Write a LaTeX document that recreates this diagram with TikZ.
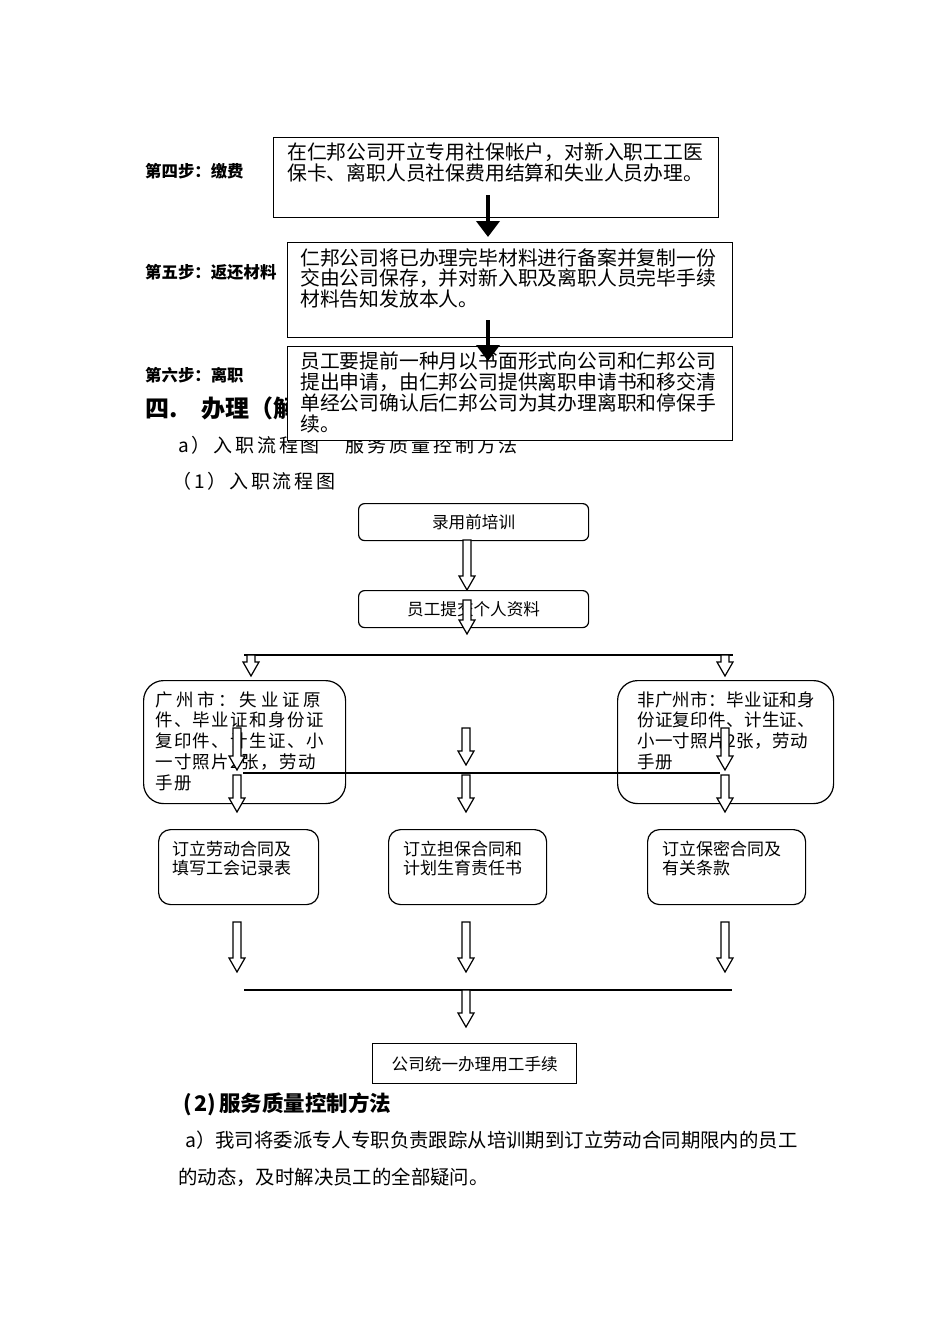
\documentclass[tikz,border=0pt]{standalone}
\usepackage{fontspec}
\setmainfont{Noto Sans CJK SC}
\usepackage{tikz}
\usetikzlibrary{arrows.meta}

\newcommand{\bigtext}{\fontsize{19.8}{20.8}\selectfont}
\newcommand{\midtext}{\fontsize{16.6}{18}\selectfont}
\newcommand{\flowtext}{\fontsize{17}{19}\selectfont}

% hollow block arrow: x, top, tip
\newcommand{\harrow}[3]{%
  \draw[hollow] (#1-4,#2) -- (#1+4,#2) -- (#1+4,#3-14) -- (#1+8,#3-14)
    -- (#1,#3) -- (#1-8,#3-14) -- (#1-4,#3-14) -- cycle;}

\tikzset{
  stepbox/.style={draw, line width=1.4pt, fill=white, anchor=north west, inner sep=0pt},
  roundbox/.style={draw, line width=1.2pt, fill=white, rounded corners=#1, anchor=north west, inner sep=0pt},
  roundbox/.default=12pt,
  boxtext/.style={anchor=north west, align=left, inner sep=0pt},
  steplabel/.style={anchor=west, inner sep=0pt, font=\fontsize{16.4}{16.4}\selectfont\bfseries},
  widetext/.style={anchor=west, inner sep=0pt, font=\fontsize{19}{19}\selectfont\addfontfeature{LetterSpace=15}},
  plaintext/.style={anchor=west, inner sep=0pt, font=\fontsize{19.4}{19.4}\selectfont},
  solidarrow/.style={line width=4pt, -{Triangle[length=16pt,width=23pt]}},
  hollow/.style={draw, fill=white, line width=1.2pt, line join=miter},
}

\begin{document}
\begin{tikzpicture}[x=1pt,y=-1pt]

        % page
        \fill[white] (0,0) rectangle (950,1344);

        % steps
        \node[steplabel] (l4) at (145,171) {第四步：缴费};
        \node[steplabel] (l5) at (145,272) {第五步：返还材料};
        \node[steplabel] (l6) at (145,375) {第六步：离职};

        \node[anchor=west, inner sep=0pt, font=\fontsize{24}{24}\selectfont\bfseries] (h4) at (145,408) {四.\hspace{24pt}办理（解};
        \node[widetext] (la) at (178,445) {a）入职流程图\hspace{26pt}服务质量控制方法};
        \node[widetext] (l1) at (172,481) {（1）入职流程图};

        \node[stepbox, minimum width=445pt, minimum height=80pt] (b4) at (273,137) {};
        \node[boxtext, font=\bigtext] (t4) at (287,143) {在仁邦公司开立专用社保帐户，对新入职工工医\\保卡、离职人员社保费用结算和失业人员办理。};

        \node[stepbox, minimum width=445pt, minimum height=95pt] (b5) at (287,242) {};
        \node[boxtext, font=\bigtext] (t5) at (300,248) {仁邦公司将已办理完毕材料进行备案并复制一份\\交由公司保存，并对新入职及离职人员完毕手续\\材料告知发放本人。};

        \node[stepbox, minimum width=445pt, minimum height=94pt] (b6) at (287,346) {};
        \node[boxtext, font=\bigtext] (t6) at (300,352) {员工要提前一种月以书面形式向公司和仁邦公司\\提出申请，由仁邦公司提供离职申请书和移交清\\单经公司确认后仁邦公司为其办理离职和停保手\\续。};

        \coordinate (a4s) at (488,195);
        \coordinate (a4e) at (488,237);
        \coordinate (a5s) at (488,320);
        \coordinate (a5e) at (488,361);
        \draw[solidarrow] (a4s) -- (a4e);
        \draw[solidarrow] (a5s) -- (a5e);

        % flow chart
        \node[roundbox=6pt, minimum width=230pt, minimum height=37pt, font=\midtext] (train) at (358,503) {录用前培训};
        \harrow{467}{540}{590}
        \node[roundbox=6pt, minimum width=230pt, minimum height=37pt, font=\midtext] (submit) at (358,590) {员工提交个人资料};
        \harrow{467}{600}{634}

        \coordinate (sl) at (244,655);
        \coordinate (sr) at (733,655);
        \draw[line width=1.4pt] (sl) -- (sr);
        \harrow{251}{655}{676}
        \harrow{725}{655}{676}

        \node[roundbox=20pt, minimum width=202pt, minimum height=123pt] (gz) at (143,680) {};
        \node[boxtext, font=\fontsize{17.5}{20.8}\selectfont\addfontfeature{LetterSpace=8}] (tgz) at (155,691) {{\addfontfeature{LetterSpace=21}广州市：失业证原}\\件、毕业证和身份证\\复印件、计生证、小\\一寸照片2张，劳动\\手册};

        \node[roundbox=20pt, minimum width=216pt, minimum height=123pt] (ngz) at (617,680) {};
        \node[boxtext, font=\fontsize{17.5}{20.8}\selectfont\addfontfeature{LetterSpace=2}] (tngz) at (637,691) {非广州市：毕业证和身\\份证复印件、计生证、\\小一寸照片2张，劳动\\手册};

        \harrow{237}{728}{770}
        \harrow{466}{728}{765}
        \harrow{725}{728}{770}
        \coordinate (ml) at (243,773);
        \coordinate (mr) at (720,773);
        \draw[line width=2.2pt] (ml) -- (mr);
        \harrow{237}{775}{812}
        \harrow{466}{775}{812}
        \harrow{725}{775}{812}

        \node[roundbox, minimum width=160pt, minimum height=75pt] (labor) at (158,829) {};
        \node[boxtext, font=\flowtext] (tlabor) at (172,841) {订立劳动合同及\\填写工会记录表};
        \node[roundbox, minimum width=158pt, minimum height=75pt] (guar) at (388,829) {};
        \node[boxtext, font=\flowtext] (tguar) at (403,841) {订立担保合同和\\计划生育责任书};
        \node[roundbox, minimum width=158pt, minimum height=75pt] (secret) at (647,829) {};
        \node[boxtext, font=\flowtext] (tsecret) at (662,841) {订立保密合同及\\有关条款};

        \harrow{237}{922}{972}
        \harrow{466}{922}{972}
        \harrow{725}{922}{972}
        \coordinate (bl) at (244,990);
        \coordinate (br) at (732,990);
        \draw[line width=1.4pt] (bl) -- (br);
        \harrow{466}{990}{1027}

        \node[draw, line width=1.4pt, anchor=north west, minimum width=204pt, minimum height=40pt, font=\midtext] (hire) at (372,1043) {公司统一办理用工手续};

        % method
        \node[anchor=west, inner sep=0pt, font=\fontsize{21.5}{21.5}\selectfont\bfseries] (h2) at (183,1104) {(\hspace{3pt}2)\hspace{3pt}服务质量控制方法};
        \node[plaintext] (p1) at (185,1140) {a）我司将委派专人专职负责跟踪从培训期到订立劳动合同期限内的员工};
        \node[plaintext] (p2) at (178,1177) {的动态，及时解决员工的全部疑问。};

\end{tikzpicture}
\end{document}
